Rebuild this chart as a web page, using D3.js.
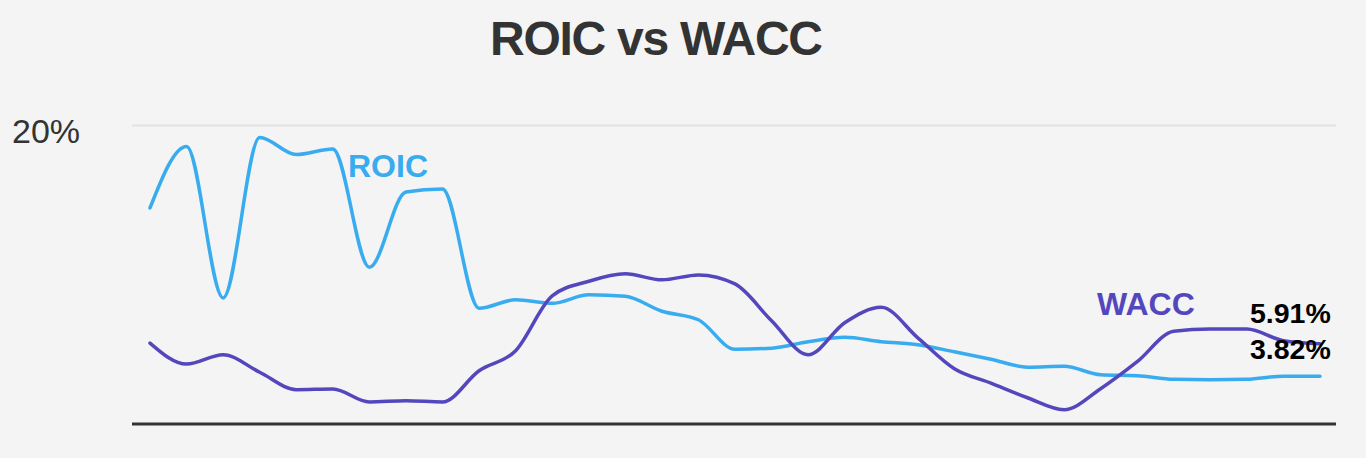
<!DOCTYPE html>
<html>
<head>
<meta charset="utf-8">
<script src="https://cdn.jsdelivr.net/npm/d3@7"></script>
<style>
  html, body { margin: 0; padding: 0; background: #f4f4f4; }
  svg { display: block; font-family: "Liberation Sans", Arial, sans-serif; }
</style>
</head>
<body>
<svg id="chart" width="1366" height="458"></svg>
<script>
// ---- data (percent) ----
const roic = [14.66, 18.62, 8.87, 19.20, 18.10, 18.46, 10.84, 15.69, 15.88, 8.20,
              8.75, 8.52, 9.07, 8.97, 8.01, 7.46, 5.56, 5.63, 6.05, 6.33,
              6.05, 5.85, 5.40, 4.92, 4.41, 4.47, 3.92, 3.86, 3.63, 3.60,
              3.63, 3.83, 3.82];
const wacc = [5.96, 4.61, 5.21, 4.08, 2.96, 3.00, 2.17, 2.25, 2.17, 4.18,
              5.47, 9.00, 9.94, 10.42, 10.03, 10.35, 9.77, 7.40, 5.21, 7.27,
              8.26, 6.30, 4.31, 3.38, 2.44, 1.67, 3.02, 4.76, 6.72, 6.86,
              6.86, 6.11, 5.91];
const periods = d3.range(roic.length);
const yTicks = [20];
const yTickLabels = ["20%"];
const endLabels = ["5.91%", "3.82%"];
const seriesNames = ["ROIC", "WACC"];

// ---- layout ----
const svg = d3.select("#chart");
const W = 1366, H = 458;
const plot = { left: 132, right: 1336, top: 125, bottom: 424 };
const lineStart = 150, lineEnd = 1320;
const yMin = 0.75, yMax = 20;

const x = d3.scalePoint().domain(periods).range([lineStart, lineEnd]);
const y = d3.scaleLinear().domain([yMin, yMax]).range([plot.bottom, plot.top]);

svg.append("rect").attr("width", W).attr("height", H).attr("fill", "#f4f4f4");

// title
svg.append("text")
  .attr("x", 656.5).attr("y", 55)
  .attr("text-anchor", "middle")
  .attr("font-size", 48).attr("font-weight", "bold")
  .attr("fill", "#333333")
  .attr("textLength", 333).attr("lengthAdjust", "spacing")
  .text("ROIC vs WACC");

// gridline(s)
const yAxis = d3.axisLeft(y).tickValues(yTicks).tickSize(-(plot.right - plot.left)).tickFormat("");
const gAxis = svg.append("g").attr("transform", `translate(${plot.left},0)`).call(yAxis);
gAxis.select(".domain").remove();
gAxis.selectAll(".tick line").attr("stroke", "#e2e2e2").attr("stroke-width", 2);

// y tick labels
svg.selectAll("text.ylab").data(yTicks).enter().append("text")
  .attr("class", "ylab")
  .attr("x", 12).attr("y", d => y(d) + 18)
  .attr("font-size", 34).attr("fill", "#333333")
  .text((d, i) => yTickLabels[i]);

// baseline
svg.append("line")
  .attr("x1", plot.left).attr("x2", plot.right)
  .attr("y1", y(yMin)).attr("y2", y(yMin))
  .attr("stroke", "#333333").attr("stroke-width", 3);

// lines
const line = d3.line().x((d, i) => x(periods[i])).y(d => y(d)).curve(d3.curveMonotoneX);
svg.append("path").datum(roic).attr("d", line)
  .attr("fill", "none").attr("stroke", "#39acef").attr("stroke-width", 3.5)
  .attr("stroke-linejoin", "round").attr("stroke-linecap", "round");
svg.append("path").datum(wacc).attr("d", line)
  .attr("fill", "none").attr("stroke", "#5447bd").attr("stroke-width", 3.5)
  .attr("stroke-linejoin", "round").attr("stroke-linecap", "round");

// series labels
svg.append("text").attr("x", 348).attr("y", 177)
  .attr("font-size", 32).attr("font-weight", "bold").attr("fill", "#39acef")
  .text(seriesNames[0]);
svg.append("text").attr("x", 1097).attr("y", 315)
  .attr("font-size", 32).attr("font-weight", "bold").attr("fill", "#5447bd")
  .text(seriesNames[1]);

// end value labels
svg.append("text").attr("x", 1250).attr("y", 323)
  .attr("font-size", 28.5).attr("font-weight", "bold").attr("fill", "#000")
  .text(endLabels[0]);
svg.append("text").attr("x", 1250).attr("y", 359)
  .attr("font-size", 28.5).attr("font-weight", "bold").attr("fill", "#000")
  .text(endLabels[1]);
</script>
</body>
</html>
